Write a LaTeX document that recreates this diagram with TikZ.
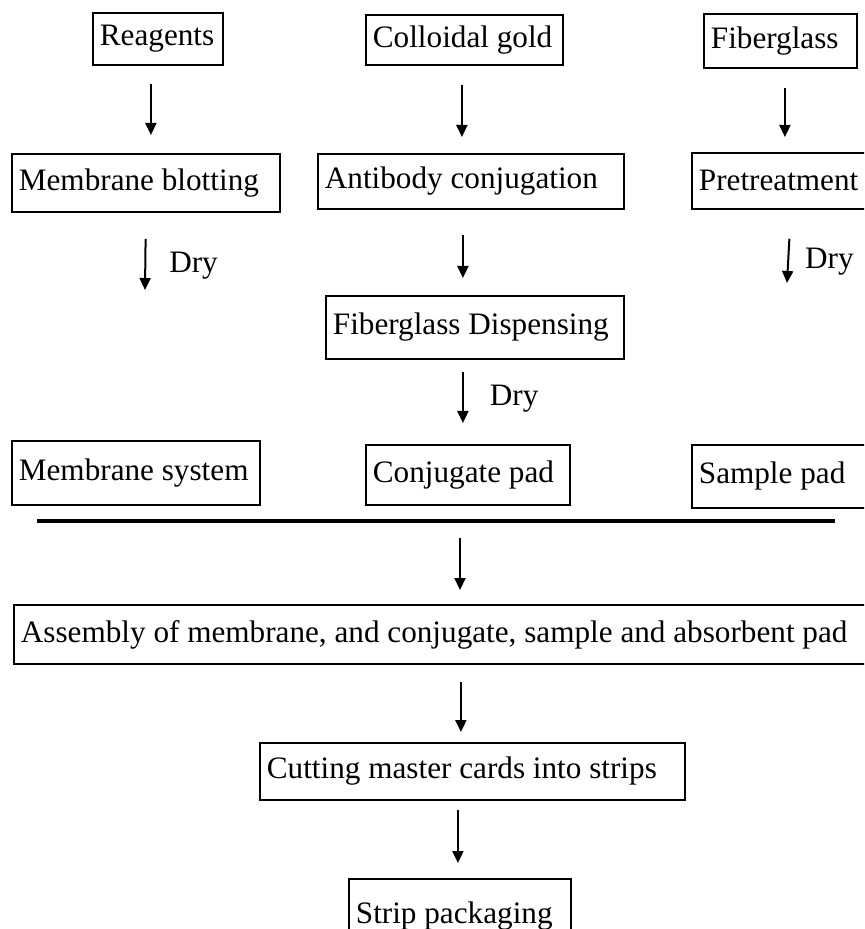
\documentclass[tikz,border=0pt]{standalone}
\usepackage{fontspec}
\setmainfont{Liberation Serif}
\usepackage{tikz}
\usetikzlibrary{arrows.meta,positioning}
\tikzstyle{stepbox} = [rectangle, draw=black, line width=0.9pt, anchor=north west, inner xsep=3.5pt, inner ysep=0pt, align=flush left, font=\fontsize{15.6}{18}\selectfont]
\tikzstyle{drylabel} = [anchor=west, inner sep=0pt, font=\fontsize{15.6}{18}\selectfont]
\tikzstyle{arrow} = [line width=1pt,-{Triangle[length=6pt,width=5.5pt]}]

\begin{document}
\begin{tikzpicture}[x=0.5pt, y=-0.5pt]
\useasboundingbox (0,0) rectangle (864,929);
\clip (0,0) rectangle (864,929);
% three columns
\node (reag) [stepbox, text width=58pt, minimum height=26pt] at (92,12) {Reagents};
\node (gold) [stepbox, text width=91.5pt, minimum height=25pt] at (365,14) {Colloidal gold};
\node (fglass) [stepbox, text width=69.5pt, minimum height=27pt] at (703,13) {Fiberglass};
\node (blot) [stepbox, text width=127pt, minimum height=29pt] at (11,153) {Membrane blotting};
\node (anti) [stepbox, text width=146pt, minimum height=27.5pt] at (317,153) {Antibody conjugation};
\node (pret) [stepbox, text width=83.5pt, minimum height=28pt] at (691,152) {Pretreatment};
\node (disp) [stepbox, text width=142pt, minimum height=31.5pt] at (325,295) {Fiberglass Dispensing};
\node (msys) [stepbox, text width=117pt, minimum height=32pt] at (11,440) {Membrane system};
\node (cpad) [stepbox, text width=95pt, minimum height=30pt] at (365,444) {Conjugate pad};
\node (spad) [stepbox, text width=83.5pt, minimum height=31.5pt] at (691,444) {Sample pad};
% assembly part
\node (assem) [stepbox, text width=422.5pt, minimum height=29.5pt] at (13,604) {Assembly of membrane, and conjugate, sample and absorbent pad};
\node (cut) [stepbox, text width=205.5pt, minimum height=28.5pt] at (259,742) {Cutting master cards into strips};
\node (strip) [stepbox, text width=104pt, minimum height=37pt] at (348,878) {Strip packaging};
\coordinate (dry1) at (145,290);
\coordinate (dry2) at (787,283);
\coordinate (barL) at (37,521);
\coordinate (barR) at (835,521);
\coordinate (barM) at (460,521);
\draw [line width=1.8pt] (barL) -- (barR);
\draw [arrow, shorten <=9pt, shorten >=9pt] ([xshift=-3.5pt]reag.south) -- ([xshift=-3.5pt]reag.south |- blot.north);
\draw [arrow, shorten <=9.5pt, shorten >=8pt] ([xshift=-1.25pt]gold.south) -- ([xshift=-1.25pt]gold.south |- anti.north);
\draw [arrow, shorten <=9.5pt, shorten >=7.5pt] ([xshift=2.25pt]fglass.south) -- ([xshift=2.25pt]fglass.south |- pret.north);
\draw [arrow, shorten <=13pt] (blot.south) -- node[drylabel, pos=0.68, xshift=11.5pt] {Dry} (dry1);
\draw [arrow, shorten <=14.5pt] ([xshift=4.25pt]pret.south) -- node[drylabel, pos=0.71, xshift=8pt] {Dry} (dry2);
\draw [arrow, shorten <=12.5pt, shorten >=8.5pt] ([xshift=-4pt]anti.south) -- ([xshift=-4pt]anti.south |- disp.north);
\draw [arrow, shorten <=6pt, shorten >=10.5pt] ([xshift=-6pt]disp.south) -- node[drylabel, pos=0.465, xshift=13pt] {Dry} ([xshift=-6pt]disp.south |- cpad.north);
\draw [arrow, shorten <=8.5pt, shorten >=7pt] (barM) -- (barM |- assem.north);
\draw [arrow, shorten <=8.5pt, shorten >=5pt] ([xshift=-5.75pt]cut.north |- assem.south) -- ([xshift=-5.75pt]cut.north);
\draw [arrow, shorten <=4.5pt, shorten >=7.5pt] ([xshift=-1pt]strip.north |- cut.south) -- ([xshift=-1pt]strip.north);
\end{tikzpicture}
\end{document}
